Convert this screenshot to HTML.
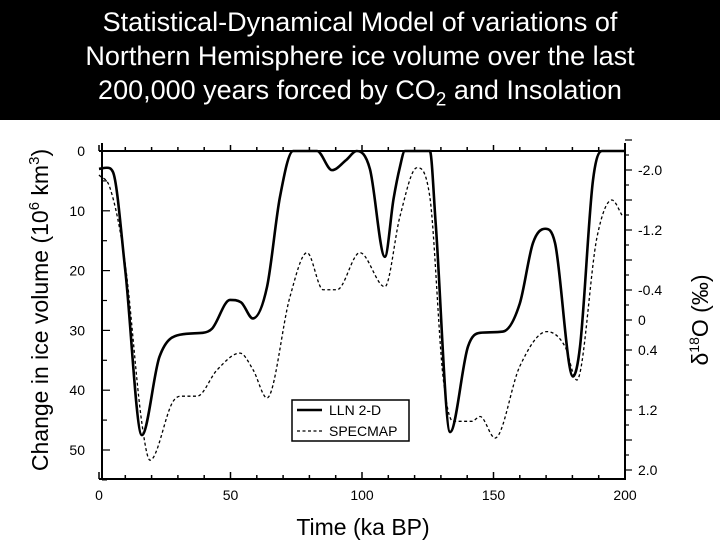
<!DOCTYPE html>
<html><head><meta charset="utf-8"><style>
body{margin:0;width:720px;height:540px;overflow:hidden;background:#fff;font-family:"Liberation Sans",sans-serif}
#title{position:absolute;left:0;top:0;width:720px;height:120px;background:#000;color:#fff;text-align:center;font-size:27px;line-height:34px;padding-top:5px;box-sizing:border-box}
svg{position:absolute;left:0;top:0}
</style></head><body>
<div id="title">Statistical-Dynamical Model of variations of<br>Northern Hemisphere ice volume over the last<br>200,000 years forced by CO<sub style="font-size:19px">2</sub> and Insolation</div>
<svg id="chart" width="720" height="540"></svg>
<script>
const llnT=[0,3,5.3,10,16.3,23,31,39.5,43,49.8,54,58.5,63.9,68.8,73.8,82.9,88.6,94,98,103,108.7,112,114.4,116.3,125.8,128,133.5,140.3,144.9,153.6,160,165,169.6,173.4,180.2,182.9,187.8,191.2,200];
const llnV=[3,2.8,3.5,20,47.5,34.4,30.7,30.4,29.7,24.9,25.3,28,22.7,7.7,0,0,3.2,1.5,0,3,17.7,8,2.7,0,0,12,47,32.7,30.4,30.2,25.5,15.4,13,15.4,37.7,32.7,5,0,0];
const specT=[0,4.2,10,16.3,19.4,28,31,37.3,44.9,53.6,58.6,63.9,72.6,79.1,85.2,90.5,99.2,108.7,114.4,120.9,125.8,130.8,134.6,141.8,144.9,150.6,160,170.3,177.2,181.7,189.4,195,199.2];
const specV=[4,6.2,19,45.5,51.7,42,41,41,36.6,33.8,36.6,41.3,24.4,17,23.2,23.2,17,22.7,11,2.8,7.7,37.7,45.2,45.2,44.4,48,36,30.2,32.7,38.3,14.3,8.2,11];
const leftTicks=[0,10,20,30,40,50];
const xTicks=[0,50,100,150,200];
const rightTicks=["-2.0","-1.2","-0.4","0","0.4","1.2","2.0"];
const rightVals=[-2.0,-1.2,-0.4,0,0.4,1.2,2.0];
const X=t=>99+t*2.63, Y=v=>151+v*5.98, R=d=>320+d*75;
const svg=document.getElementById('chart');const NS='http://www.w3.org/2000/svg';
function mk(tag,at,txt){const e=document.createElementNS(NS,tag);for(const k in at)e.setAttribute(k,at[k]);if(txt!==undefined)e.textContent=txt;svg.appendChild(e);return e;}
let e=mk('line',{x1:99,y1:151,x2:626,y2:151,stroke:'#000','stroke-width':2});

e=mk('line',{x1:102,y1:143,x2:102,y2:479,stroke:'#000','stroke-width':2});

e=mk('line',{x1:625,y1:143,x2:625,y2:479,stroke:'#000','stroke-width':2});

e=mk('line',{x1:99,y1:479,x2:626,y2:479,stroke:'#000','stroke-width':2});

for(let t=0;t<=200;t+=10){const big=t%50==0;
mk('line',{x1:X(t),y1:151,x2:X(t),y2:151-(big?6:4),stroke:'#000','stroke-width':1.5});
mk('line',{x1:X(t),y1:479,x2:X(t),y2:479-(big?7:4),stroke:'#000','stroke-width':1.5});}
for(let v=0;v<=55;v+=5){mk('line',{x1:102,y1:Y(v),x2:102+(v%10==0?8:5),y2:Y(v),stroke:'#000','stroke-width':1.2});}
for(let d=-2.4;d<=2.05;d+=0.2){mk('line',{x1:625,y1:R(d),x2:625+(Math.abs(Math.round(d*10))%4==0?7:4),y2:R(d),stroke:'#000','stroke-width':1.2});}
leftTicks.forEach(v=>{const t=mk('text',{x:85,y:Y(v)+5,'font-size':14,'text-anchor':'end'},v);
});
xTicks.forEach(v=>{const t=mk('text',{x:X(v),y:500,'font-size':14,'text-anchor':'middle'},v);
});
rightTicks.forEach((s,i)=>{const t=mk('text',{x:638,y:R(rightVals[i])+5,'font-size':14},s);
});
function path(T,V){const p=T.map((t,i)=>[X(t),Y(V[i])]);const n=p.length;
const s=[],m=[];for(let i=0;i<n-1;i++)s.push((p[i+1][1]-p[i][1])/(p[i+1][0]-p[i][0]));
m[0]=s[0];m[n-1]=s[n-2];
for(let i=1;i<n-1;i++){m[i]=(s[i-1]*s[i]<=0)?0:(s[i-1]+s[i])/2;}
for(let i=0;i<n-1;i++){if(s[i]==0){m[i]=0;m[i+1]=0;continue;}const a=m[i]/s[i],b=m[i+1]/s[i],h=a*a+b*b;if(h>9){const tt=3/Math.sqrt(h);m[i]=tt*a*s[i];m[i+1]=tt*b*s[i];}}
let d='M'+p[0];
for(let i=0;i<n-1;i++){const h=(p[i+1][0]-p[i][0])/3;
d+=` C${p[i][0]+h},${p[i][1]+m[i]*h} ${p[i+1][0]-h},${p[i+1][1]-m[i+1]*h} ${p[i+1][0]},${p[i+1][1]}`;}return d;}
e=mk('path',{d:path(specT,specV),fill:'none',stroke:'#000','stroke-width':1.3,'stroke-dasharray':'3,2.5'});

e=mk('path',{d:path(llnT,llnV),fill:'none',stroke:'#000','stroke-width':2.6});

e=mk('rect',{x:292,y:400,width:117,height:41,fill:'#fff',stroke:'#000','stroke-width':1.5});

mk('line',{x1:297,y1:410,x2:322,y2:410,stroke:'#000','stroke-width':2.6});
mk('line',{x1:297,y1:431,x2:322,y2:431,stroke:'#000','stroke-width':1.3,'stroke-dasharray':'3,2.5'});
e=mk('text',{x:329,y:415,'font-size':14},'LLN 2-D');

e=mk('text',{x:329,y:436,'font-size':14},'SPECMAP');

e=mk('text',{x:363,y:535,'font-size':23,'text-anchor':'middle'},'Time (ka BP)');

e=mk('text',{x:0,y:0,'font-size':23,'text-anchor':'middle',transform:'translate(48,310) rotate(-90)'});
e.innerHTML='Change in ice volume (10<tspan font-size="15" dy="-9">6</tspan><tspan dy="9"> km</tspan><tspan font-size="15" dy="-9">3</tspan><tspan dy="9">)</tspan>';

e=mk('text',{x:0,y:0,'font-size':23,'text-anchor':'middle',transform:'translate(708,320) rotate(-90)'});
e.innerHTML='δ<tspan font-size="14" dy="-9">18</tspan><tspan dy="9">O (‰)</tspan>';

</script>
</body></html>
